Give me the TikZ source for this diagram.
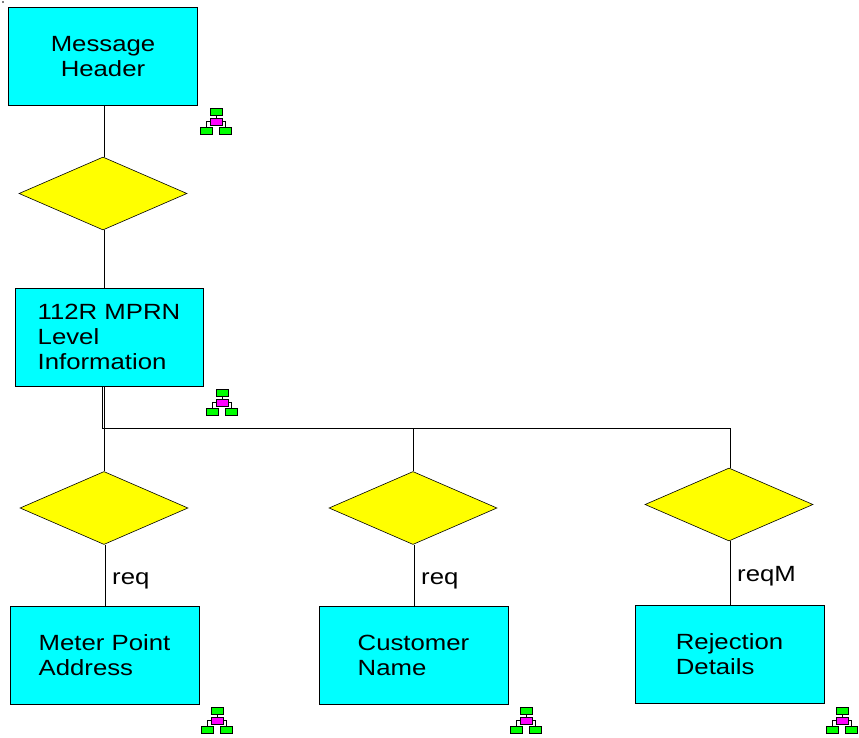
\documentclass[tikz,border=0pt]{standalone}
\usepackage{fontspec}
\setmainfont[FakeStretch=1.17]{Liberation Sans}
\usetikzlibrary{shapes.geometric}
\definecolor{boxcyan}{RGB}{0,255,255}
\definecolor{diayellow}{RGB}{255,255,0}
\definecolor{icongreen}{RGB}{0,255,0}
\definecolor{iconmag}{RGB}{255,0,255}
\tikzset{
  x=1pt,y=-1pt,
  every node/.style={font=\fontsize{22}{25}\selectfont,text=black},
  entity/.style={rectangle,draw=black,line width=0.8pt,fill=boxcyan,minimum width=188pt,minimum height=98pt,inner sep=0pt,align=left},
  relation/.style={diamond,draw=black,line width=0.6pt,fill=diayellow,minimum width=168pt,minimum height=73pt,inner sep=0pt,aspect=2.3},
  link/.style={draw=black,line width=0.8pt},
  card/.style={inner sep=0pt,anchor=base west},
  ig/.style={rectangle,draw=black,line width=0.7pt,fill=icongreen,minimum width=12pt,minimum height=7pt,inner sep=0pt},
  im/.style={rectangle,draw=black,line width=0.7pt,fill=iconmag,minimum width=12pt,minimum height=7pt,inner sep=0pt},
  il/.style={draw=black,line width=0.6pt},
  hier/.pic={
    \node[ig] (-t) at (0,4) {};
    \node[im] (-m) at (0,13.5) {};
    \node[ig] (-l) at (-10,23) {};
    \node[ig] (-r) at (9.5,23) {};
    \draw[il] (-t) -- (-m);
    \draw[il] (-m.west) -| (-l.north);
    \draw[il] (-m.east) -| (-r.north);
  }
}
\begin{document}
\begin{tikzpicture}
\useasboundingbox (0,0) rectangle (859,738);
\fill[gray] (2,1.5) rectangle (3.5,3);
% entities
\node[entity,minimum width=189pt,align=center] (hdr) at (103,56.5) {Message\\Header};
\node[entity] (lvl) at (109,337) {112R MPRN\\Level\\Information};
\node[entity,minimum width=189pt] (addr) at (104.5,655.5) {Meter Point\\Address};
\node[entity,minimum width=189pt] (cust) at (413.5,655.5) {Customer\\Name};
\node[entity,minimum width=189pt] (rej) at (729.5,654.5) {Rejection\\Details};
% relations
\node[relation] (d1) at (103,193.5) {};
\node[relation] (d2) at (104,508) {};
\node[relation] (d3) at (413,508) {};
\node[relation] (d4) at (729,504.5) {};
% connector columns
\coordinate (xa) at (102,428);
\coordinate (xb) at (104,428);
\coordinate (xc) at (105,428);
\coordinate (xd) at (413,428);
\coordinate (xe) at (414,428);
\coordinate (xf) at (730,428);
% connectors
\draw[link] (xb |- hdr.south) -- (xb |- d1.north);
\draw[link] (xb |- d1.south) -- (xb |- lvl.north);
\draw[link] (xa |- lvl.south) -- (xa) -- (xf);
\draw[link] (xb |- lvl.south) -- (xb |- d2.north);
\draw[link] (xd) -- (xd |- d3.north);
\draw[link] (xf) -- (xf |- d4.north);
\draw[link] (xc |- d2.south) -- (xc |- addr.north);
\draw[link] (xe |- d3.south) -- (xe |- cust.north);
\draw[link] (xf |- d4.south) -- (xf |- rej.north);
% cardinalities
\node[card] (c1) at (112,584) {req};
\node[card] (c2) at (421,584) {req};
\node[card] (c3) at (737,581) {reqM};
% icons
\pic (i1) at (216,108) {hier};
\pic (i2) at (222,389) {hier};
\pic (i3) at (217,707) {hier};
\pic (i4) at (526,707) {hier};
\pic (i5) at (842,707) {hier};
\end{tikzpicture}
\end{document}
